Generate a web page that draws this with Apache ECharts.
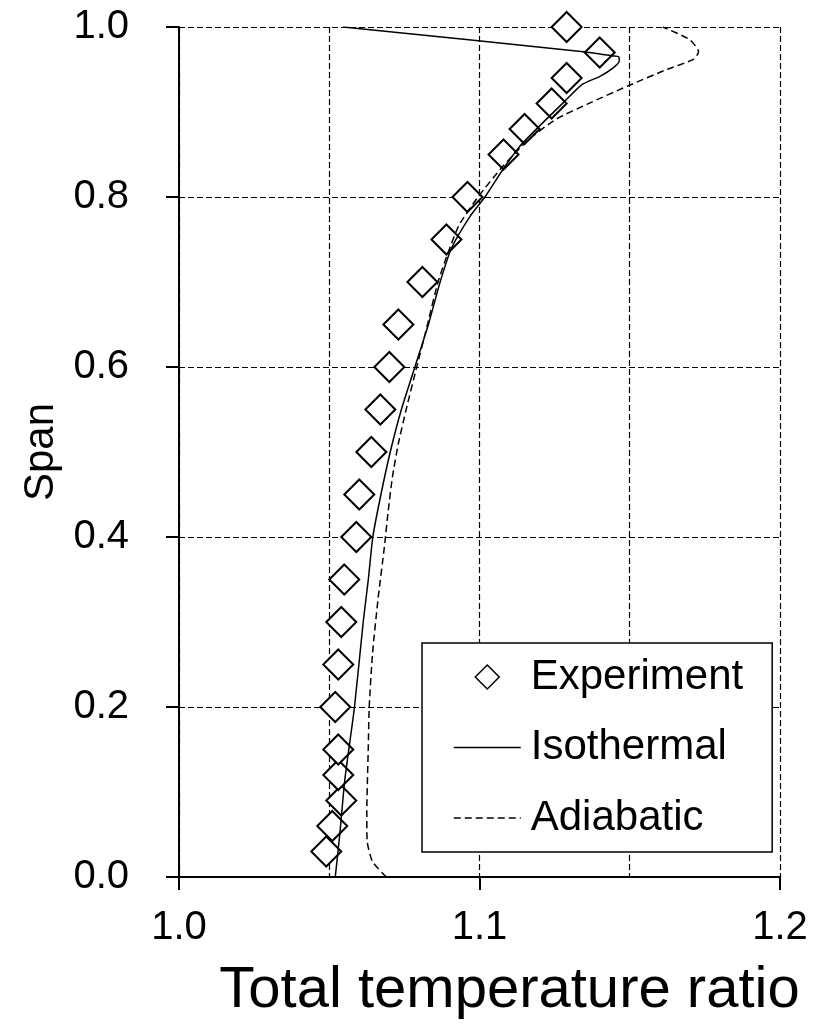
<!DOCTYPE html>
<html>
<head>
<meta charset="utf-8">
<script src="https://cdn.jsdelivr.net/npm/echarts@6/dist/echarts.min.js"></script>
<style>
html,body{margin:0;padding:0;background:#fff;}
#chart{width:815px;height:1025px;}
</style>
</head>
<body>
<div id="chart"></div>
<script>
// Experiment (diamonds)
const expX = [1.049, 1.051, 1.054, 1.053, 1.053, 1.052, 1.053, 1.054, 1.055, 1.059, 1.060, 1.064, 1.067, 1.070, 1.073, 1.081, 1.089, 1.096, 1.108, 1.115, 1.124, 1.129, 1.140, 1.129];
const expY = [0.03, 0.06, 0.09, 0.12, 0.15, 0.20, 0.25, 0.30, 0.35, 0.40, 0.45, 0.50, 0.55, 0.60, 0.65, 0.70, 0.75, 0.80, 0.85, 0.88, 0.91, 0.94, 0.97, 1.00];

// Isothermal (solid line)
const isoX = [1.052, 1.0535, 1.0552, 1.0584, 1.0613, 1.0630, 1.0645, 1.0672, 1.0703, 1.0740, 1.0785, 1.0830, 1.0869, 1.0907, 1.0968, 1.1018, 1.1079, 1.1135, 1.1201, 1.1279, 1.1340, 1.1401, 1.1445, 1.1465, 1.1463, 1.1445, 1.1346, 1.0546];
const isoY = [0.00, 0.05, 0.115, 0.20, 0.30, 0.35, 0.40, 0.45, 0.50, 0.55, 0.60, 0.65, 0.70, 0.74, 0.777, 0.80, 0.833, 0.86, 0.884, 0.911, 0.932, 0.942, 0.952, 0.960, 0.965, 0.966, 0.971, 1.00];

// Adiabatic (dashed line)
const adiX = [1.0690, 1.0644, 1.0626, 1.0625, 1.0630, 1.0633, 1.0644, 1.0663, 1.0683, 1.0696, 1.0710, 1.0730, 1.0756, 1.0791, 1.0827, 1.0862, 1.0897, 1.0932, 1.0995, 1.1080, 1.1165, 1.1257, 1.1357, 1.1496, 1.1623, 1.1712, 1.1729, 1.1700, 1.1610];
const adiY = [0.00, 0.018, 0.043, 0.076, 0.154, 0.20, 0.263, 0.329, 0.387, 0.43, 0.47, 0.51, 0.55, 0.60, 0.65, 0.70, 0.736, 0.767, 0.80, 0.837, 0.868, 0.892, 0.909, 0.931, 0.950, 0.962, 0.971, 0.985, 1.00];

const seriesNames = ['Experiment', 'Isothermal', 'Adiabatic'];
const xTitle = 'Total temperature ratio';
const yTitle = 'Span';

const zip = (xs, ys) => xs.map((x, i) => [x, ys[i]]);
const FONT = 'Liberation Sans, Arial, sans-serif';
const gridLine = {show: true, lineStyle: {color: '#000', type: [6, 3], width: 1.2}};

const chart = echarts.init(document.getElementById('chart'), null, {renderer: 'canvas', width: 815, height: 1025});
chart.setOption({
  animation: false,
  backgroundColor: '#fff',
  textStyle: {fontFamily: FONT, color: '#000'},
  grid: {left: 179, width: 601, top: 27, height: 858, containLabel: false},
  xAxis: {
    type: 'value', min: 1.0, max: 1.2, interval: 0.1,
    axisLine: {show: true, onZero: false, lineStyle: {color: '#000', width: 2}},
    axisTick: {show: true, length: 13, lineStyle: {color: '#000', width: 2}},
    axisLabel: {fontSize: 40, color: '#000', margin: 31, fontFamily: FONT, formatter: v => v.toFixed(1)},
    splitLine: gridLine,
    minorTick: {show: false, splitNumber: 2},
    minorSplitLine: gridLine,
    name: xTitle, nameLocation: 'middle', nameGap: 85,
    nameTextStyle: {fontSize: 58, color: '#000', fontFamily: FONT, padding: [0, 0, 0, 60]}
  },
  yAxis: {
    type: 'value', min: 0, max: 1, interval: 0.2,
    axisLine: {show: true, onZero: false, lineStyle: {color: '#000', width: 2}},
    axisTick: {show: true, length: 13, lineStyle: {color: '#000', width: 2}},
    axisLabel: {fontSize: 40, color: '#000', margin: 50, fontFamily: FONT, formatter: v => v.toFixed(1)},
    splitLine: gridLine,
    name: yTitle, nameLocation: 'middle', nameRotate: 90, nameGap: 114,
    nameTextStyle: {fontSize: 42, color: '#000', fontFamily: FONT}
  },
  legend: {
    orient: 'vertical', left: 422, top: 643,
    padding: [13, 29, 13, 31],
    itemWidth: 67, itemHeight: 30, itemGap: 28.5,
    backgroundColor: '#fff', borderColor: '#000', borderWidth: 1.5,
    selectedMode: false,
    textStyle: {fontSize: 42, color: '#000', fontFamily: FONT, padding: [0, 0, 0, 5]},
    lineStyle: {width: 1.5},
    itemStyle: {borderWidth: 1.5},
    data: [
      {name: seriesNames[0]},
      {name: seriesNames[1], itemStyle: {opacity: 0}},
      {name: seriesNames[2], itemStyle: {opacity: 0}}
    ]
  },
  series: [
    {
      name: seriesNames[0], type: 'line', data: zip(expX, expY),
      symbol: 'diamond', symbolSize: 30, showSymbol: true, clip: false,
      lineStyle: {opacity: 0, width: 0},
      itemStyle: {color: '#fff', borderColor: '#000', borderWidth: 2},
      z: 2, silent: true, emphasis: {disabled: true}
    },
    {
      name: seriesNames[1], type: 'line', data: zip(isoX, isoY),
      symbol: 'none', smooth: 0.2,
      lineStyle: {color: '#000', width: 1.5},
      itemStyle: {color: '#000'},
      z: 3, silent: true, emphasis: {disabled: true}
    },
    {
      name: seriesNames[2], type: 'line', data: zip(adiX, adiY),
      symbol: 'none', smooth: 0.2,
      lineStyle: {color: '#000', width: 1.5, type: [7, 4]},
      itemStyle: {color: '#000'},
      z: 3, silent: true, emphasis: {disabled: true}
    }
  ]
});
</script>
</body>
</html>
